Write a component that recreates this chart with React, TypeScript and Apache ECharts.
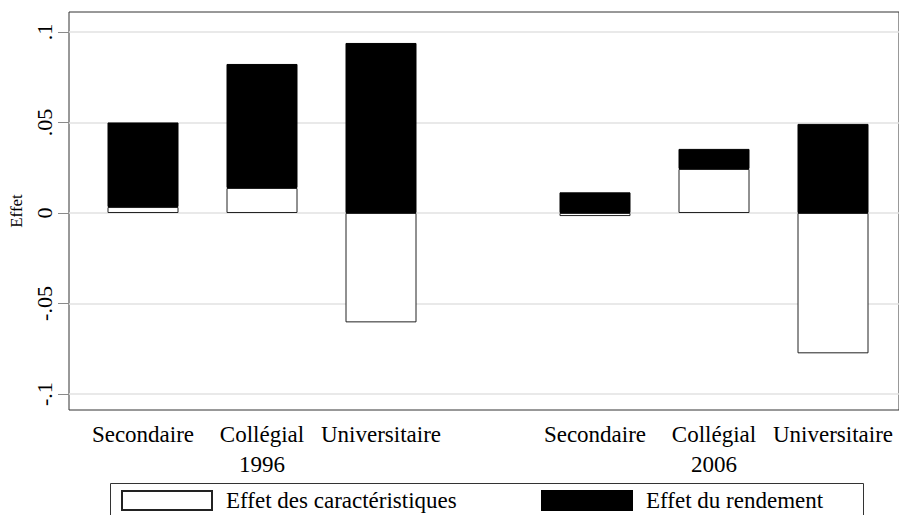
import React, { useEffect, useRef } from "react";
import * as echarts from "echarts";

const educationLevels = ["Secondaire", "Collégial", "Universitaire"];
const years = ["1996", "2006"];
const seriesNames = ["Effet des caractéristiques", "Effet du rendement"];
const caracteristiques1996 = [0.0033, 0.0138, -0.0604];
const rendement1996 = [0.0467, 0.0685, 0.0939];
const caracteristiques2006 = [-0.0017, 0.0243, -0.0775];
const rendement2006 = [0.0114, 0.0111, 0.0492];
const yTicks = [-0.1, -0.05, 0, 0.05, 0.1];
const yTickLabels = ["-.1", "-.05", "0", ".05", ".1"];
const yTitle = "Effet";

const Y_MIN = -0.1088;
const Y_MAX = 0.111;
const FONT = "'Liberation Serif', 'Times New Roman', serif";

export default function App() {
  const ref = useRef<HTMLDivElement>(null);
  useEffect(() => {
    if (!ref.current) return;
    const chart = echarts.init(ref.current, undefined, { renderer: "svg" });
    const gridCommon = { top: 12, bottom: 105, containLabel: false };
    const hiddenY = (i: number) => ({
      type: "value",
      gridIndex: i,
      min: Y_MIN,
      max: Y_MAX,
      show: false,
    });
    const catX = (i: number, year: string) => ({
      type: "category",
      gridIndex: i,
      data: educationLevels,
      axisLine: { show: false },
      axisTick: { show: false },
      axisLabel: {
        interval: 0,
        margin: 13,
        fontFamily: FONT,
        fontSize: 23,
        color: "#000",
      },
      name: year,
      nameLocation: "middle",
      nameGap: 43,
      nameTextStyle: { fontFamily: FONT, fontSize: 23, color: "#000" },
    });
    const whiteStyle = { color: "#ffffff", borderColor: "#222", borderWidth: 1 };
    const blackStyle = { color: "#000000", borderColor: "#000", borderWidth: 1 };
    const legendCommon = {
      top: 489,
      icon: "rect",
      itemWidth: 90,
      itemHeight: 19,
      padding: 0,
      itemGap: 0,
      selectedMode: false,
      textStyle: {
        fontFamily: FONT,
        fontSize: 23,
        color: "#000",
        padding: [0, 0, 0, 9],
      },
    };
    chart.setOption({
      animation: false,
      backgroundColor: "#ffffff",
      grid: [
        { left: 69, right: -2, ...gridCommon, show: true, borderColor: "#333", borderWidth: 1, backgroundColor: "transparent" },
        { left: 83.5, right: 458.5, ...gridCommon },
        { left: 535.5, right: 6.5, ...gridCommon },
      ],
      xAxis: [
        { type: "category", gridIndex: 0, data: [""], show: false },
        catX(1, years[0]),
        catX(2, years[1]),
      ],
      yAxis: [
        {
          type: "value",
          gridIndex: 0,
          min: Y_MIN,
          max: Y_MAX,
          axisLine: { show: false },
          axisTick: {
            show: true,
            length: 11,
            customValues: yTicks,
            lineStyle: { color: "#8a8a8a", width: 1 },
          },
          axisLabel: {
            customValues: yTicks,
            rotate: 90,
            margin: 14,
            fontFamily: FONT,
            fontSize: 22,
            color: "#000",
            formatter: (v: number) => {
              const idx = yTicks.findIndex((t) => Math.abs(t - v) < 1e-9);
              return idx >= 0 ? yTickLabels[idx] : "";
            },
          },
          splitLine: { show: true, lineStyle: { color: "#e2e2e2", width: 1.5 } },
          name: yTitle,
          nameLocation: "middle",
          nameGap: 44,
          nameTextStyle: { fontFamily: FONT, fontSize: 17, color: "#000" },
        },
        hiddenY(1),
        hiddenY(2),
      ],
      legend: [
        { ...legendCommon, left: 121, data: [seriesNames[0]] },
        { ...legendCommon, left: 541, data: [seriesNames[1]] },
      ],
      graphic: [
        {
          type: "rect",
          shape: { x: 110.5, y: 483.5, width: 753, height: 60 },
          style: { fill: "none", stroke: "#333", lineWidth: 1 },
          silent: true,
        },
      ],
      series: [
        { name: seriesNames[0], type: "bar", xAxisIndex: 1, yAxisIndex: 1, stack: "y96", barWidth: 71, data: caracteristiques1996, itemStyle: whiteStyle },
        { name: seriesNames[1], type: "bar", xAxisIndex: 1, yAxisIndex: 1, stack: "y96", barWidth: 71, data: rendement1996, itemStyle: blackStyle },
        { name: seriesNames[0], type: "bar", xAxisIndex: 2, yAxisIndex: 2, stack: "y06", barWidth: 71, data: caracteristiques2006, itemStyle: whiteStyle },
        { name: seriesNames[1], type: "bar", xAxisIndex: 2, yAxisIndex: 2, stack: "y06", barWidth: 71, data: rendement2006, itemStyle: blackStyle },
      ],
    });
    return () => chart.dispose();
  }, []);
  return (
    <div
      ref={ref}
      style={{ position: "fixed", left: 0, top: 0, width: 899, height: 515, background: "#fff" }}
    />
  );
}
